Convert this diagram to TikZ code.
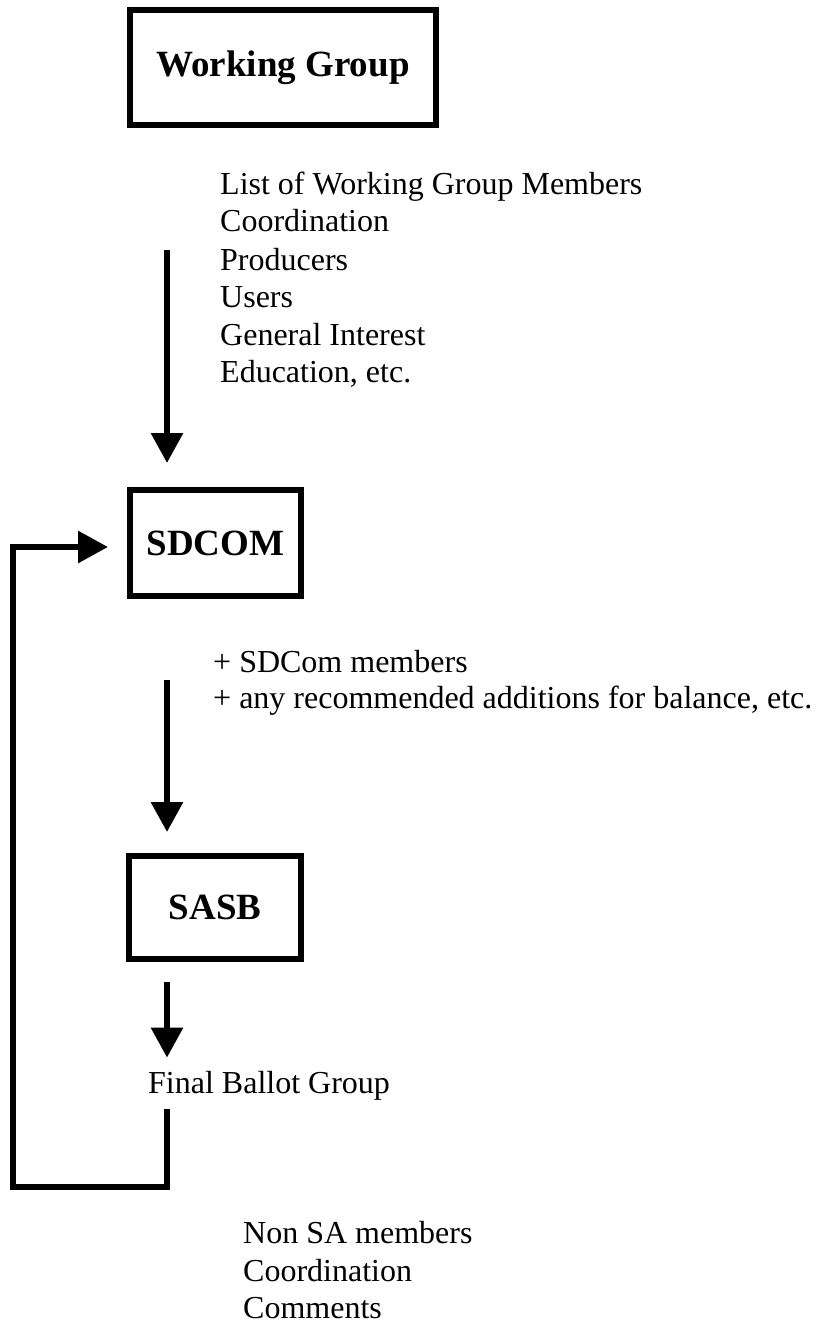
\documentclass[tikz,border=0pt]{standalone}
\usepackage{fontspec}
\setmainfont{Liberation Serif}
\usetikzlibrary{arrows.meta}
\tikzset{
  box/.style={draw, line width=6pt, outer sep=0pt, inner sep=0pt,
    font={\fontsize{37}{42}\selectfont\bfseries}},
  note/.style={inner sep=0pt, anchor=base west,
    font={\fontsize{32}{37}\selectfont}},
  flow/.style={line width=6pt, -{Triangle[length=30pt,width=31pt]}}
}
\begin{document}
\begin{tikzpicture}[x=1pt,y=-1pt]
\useasboundingbox (0,0) rectangle (820,1324);
\node[box, minimum width=306pt, minimum height=115pt] (wg) at (283,67.5) {Working Group};
\node[box, minimum width=171pt, minimum height=106pt] (sdcom) at (215.5,543) {SDCOM};
\node[box, minimum width=172pt, minimum height=103pt] (sasb) at (215,907.5) {SASB};
\node[note] (wglist1) at (220,195) {List of Working Group Members};
\node[note] (wglist2) at (220,232) {Coordination};
\node[note] (wglist3) at (220,270) {Producers};
\node[note] (wglist4) at (220,307) {Users};
\node[note] (wglist5) at (220,345) {General Interest};
\node[note] (wglist6) at (220,382) {Education, etc.};
\node[note] (sdlist1) at (213,672) {+ SDCom members};
\node[note] (sdlist2) at (213,708) {+ any recommended additions for balance, etc.};
\node[note] (fbg) at (148,1093) {Final Ballot Group};
\node[note] (nonsa1) at (243,1243) {Non SA members};
\node[note] (nonsa2) at (243,1281) {Coordination};
\node[note] (nonsa3) at (243,1318) {Comments};
\coordinate (wgout) at (167,250);
\coordinate (sdcomout) at (167,680);
\coordinate (sasbout) at (167,982);
\coordinate (fbgout) at (167,1109);
\coordinate (loopcorner) at (13,1187);
\draw[flow, shorten >=27pt] (wgout) -- (wgout |- sdcom.north);
\draw[flow, shorten >=24pt] (sdcomout) -- (sdcomout |- sasb.north);
\draw[flow, shorten >=13pt] (sasbout) -- (sasbout |- fbg.north);
\draw[flow, shorten >=22pt] (fbgout) |- (loopcorner) |- ([yshift=-4pt]sdcom.west);
\end{tikzpicture}
\end{document}
